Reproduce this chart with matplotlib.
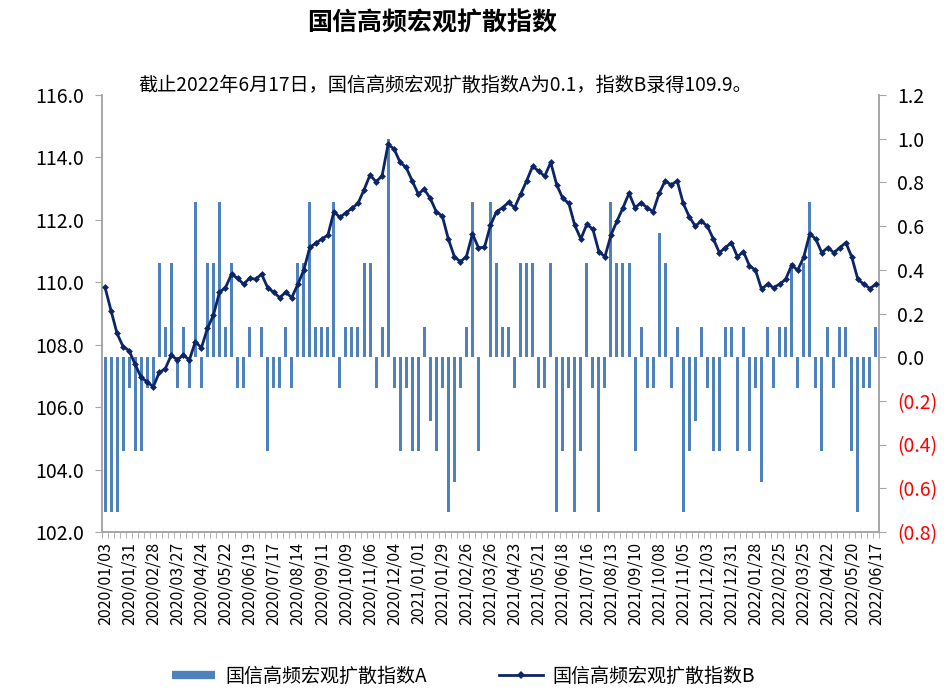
import numpy as np
import matplotlib
matplotlib.use('Agg')
import matplotlib.pyplot as plt
from matplotlib.lines import Line2D
from matplotlib.ticker import FixedLocator

plt.rcParams['font.family'] = ['Noto Sans CJK SC', 'DejaVu Sans']
plt.rcParams['axes.unicode_minus'] = False

# weekly diffusion index A (bars, right axis)
index_a = [
    -0.71, -0.71, -0.71, -0.43, -0.14, -0.43, -0.43, -0.14, -0.14, 0.43,
    0.14, 0.43, -0.14, 0.14, -0.14, 0.71, -0.14, 0.43, 0.43, 0.71,
    0.14, 0.43, -0.14, -0.14, 0.14, 0.0, 0.14, -0.43, -0.14, -0.14,
    0.14, -0.14, 0.43, 0.43, 0.71, 0.14, 0.14, 0.14, 0.71, -0.14,
    0.14, 0.14, 0.14, 0.43, 0.43, -0.14, 0.14, 1.0, -0.14, -0.43,
    -0.14, -0.43, -0.43, 0.14, -0.29, -0.43, -0.14, -0.71, -0.57, -0.14,
    0.14, 0.71, -0.43, 0.0, 0.71, 0.43, 0.14, 0.14, -0.14, 0.43,
    0.43, 0.43, -0.14, -0.14, 0.43, -0.71, -0.43, -0.14, -0.71, -0.43,
    0.43, -0.14, -0.71, -0.14, 0.71, 0.43, 0.43, 0.43, -0.43, 0.14,
    -0.14, -0.14, 0.57, 0.43, -0.14, 0.14, -0.71, -0.43, -0.29, 0.14,
    -0.14, -0.43, -0.43, 0.14, 0.14, -0.43, 0.14, -0.43, -0.14, -0.57,
    0.14, -0.14, 0.14, 0.14, 0.43, -0.14, 0.43, 0.71, -0.14, -0.43,
    0.14, -0.14, 0.14, 0.14, -0.43, -0.71, -0.14, -0.14, 0.14,
]

# weekly diffusion index B (line, left axis)
index_b = [
    109.84, 109.09, 108.36, 107.94, 107.81, 107.37, 106.95, 106.81, 106.65, 107.11,
    107.23, 107.67, 107.51, 107.67, 107.51, 108.10, 107.90, 108.52, 108.95, 109.68,
    109.83, 110.26, 110.13, 109.94, 110.13, 110.10, 110.26, 109.83, 109.68, 109.51,
    109.68, 109.51, 109.93, 110.39, 111.12, 111.25, 111.39, 111.51, 112.26, 112.08,
    112.23, 112.37, 112.53, 112.96, 113.44, 113.22, 113.41, 114.42, 114.27, 113.84,
    113.68, 113.25, 112.83, 112.98, 112.69, 112.26, 112.12, 111.39, 110.82, 110.66,
    110.82, 111.55, 111.11, 111.12, 111.83, 112.26, 112.39, 112.56, 112.39, 112.82,
    113.25, 113.72, 113.56, 113.40, 113.84, 113.12, 112.69, 112.53, 111.82, 111.39,
    111.86, 111.70, 110.98, 110.82, 111.51, 111.96, 112.39, 112.85, 112.39, 112.55,
    112.39, 112.26, 112.85, 113.25, 113.12, 113.25, 112.53, 112.10, 111.80, 111.96,
    111.80, 111.39, 110.95, 111.11, 111.27, 110.82, 110.98, 110.53, 110.39, 109.78,
    109.94, 109.83, 109.94, 110.09, 110.55, 110.39, 110.80, 111.55, 111.39, 110.95,
    111.11, 110.95, 111.11, 111.27, 110.80, 110.09, 109.94, 109.80, 109.94,
]

tick_labels = [
    '2020/01/03', '2020/01/31', '2020/02/28', '2020/03/27', '2020/04/24',
    '2020/05/22', '2020/06/19', '2020/07/17', '2020/08/14', '2020/09/11',
    '2020/10/09', '2020/11/06', '2020/12/04', '2021/01/01', '2021/01/29',
    '2021/02/26', '2021/03/26', '2021/04/23', '2021/05/21', '2021/06/18',
    '2021/07/16', '2021/08/13', '2021/09/10', '2021/10/08', '2021/11/05',
    '2021/12/03', '2021/12/31', '2022/01/28', '2022/02/25', '2022/03/25',
    '2022/04/22', '2022/05/20', '2022/06/17',
]

right_ticks = [-0.8, -0.6, -0.4, -0.2, 0.0, 0.2, 0.4, 0.6, 0.8, 1.0, 1.2]
left_ticks = [102, 104, 106, 108, 110, 112, 114, 116]

name_a = '国信高频宏观扩散指数A'
name_b = '国信高频宏观扩散指数B'

bar_color = '#4F81BD'
line_color = '#0B2566'
axis_color = '#A6A6A6'

x = np.arange(len(index_a))

fig = plt.figure(figsize=(9.49, 6.90), dpi=100)
ax = fig.add_axes([0.1075, 0.229, 0.8187, 0.6333])
ax2 = ax.twinx()

# bars on the right-hand scale
ax.bar(x, index_a, width=0.5, color=bar_color, zorder=1)
ax.set_ylim(-0.8, 1.2)
ax.set_xlim(-0.5, len(index_a) - 0.5)
ax.yaxis.tick_right()
ax.yaxis.set_label_position('right')
rlabels = ['(%.1f)' % abs(v) if v < 0 else '%.1f' % v for v in right_ticks]
ax.set_yticks(right_ticks)
ax.set_yticklabels(rlabels)
for v, lab in zip(right_ticks, ax.get_yticklabels()):
    if v < 0:
        lab.set_color('#FF0000')
ax.tick_params(axis='y', which='major', direction='out', length=5,
               color=axis_color, labelsize=14, pad=8)

# line on the left-hand scale
ax2.plot(x, index_b, color=line_color, lw=2.0, marker='D', ms=3.5,
         markeredgewidth=0, zorder=3)
ax2.set_ylim(102, 116)
ax2.yaxis.tick_left()
ax2.yaxis.set_label_position('left')
ax2.set_yticks(left_ticks)
ax2.set_yticklabels(['%.1f' % v for v in left_ticks])
ax2.tick_params(axis='y', direction='out', length=5, color=axis_color,
                labelsize=14, pad=8)

# category axis: a tick mark at every week boundary, labels every 4 weeks
ax.set_xticks(x[::4])
ax.set_xticklabels(tick_labels, rotation=90, fontsize=11.5)
ax.xaxis.set_minor_locator(FixedLocator(np.arange(-0.5, len(index_a), 1)))
ax.tick_params(axis='x', which='major', length=0, pad=7)
ax.tick_params(axis='x', which='minor', length=4, color=axis_color)

for a in (ax, ax2):
    a.spines['top'].set_visible(False)
    for s in ('left', 'right', 'bottom'):
        a.spines[s].set_color(axis_color)
        a.spines[s].set_linewidth(1.2)

fig.text(0.455, 0.966, '国信高频宏观扩散指数', ha='center', va='center',
         fontsize=18, weight='bold')
fig.text(0.469, 0.876, '截止2022年6月17日，国信高频宏观扩散指数A为0.1，指数B录得109.9。',
         ha='center', va='center', fontsize=13.8, weight='medium')

handles = [
    Line2D([0], [0], color=bar_color, lw=6, solid_capstyle='butt'),
    Line2D([0], [0], color=line_color, lw=2, marker='D', ms=4, markeredgewidth=0),
]
fig.legend(handles, [name_a, name_b], loc='center', bbox_to_anchor=(0.488, 0.02),
           ncol=2, frameon=False, fontsize=13.7, handlelength=2.3,
           handletextpad=0.5, columnspacing=3.8, numpoints=1)

fig.savefig('out.png', dpi=100)
